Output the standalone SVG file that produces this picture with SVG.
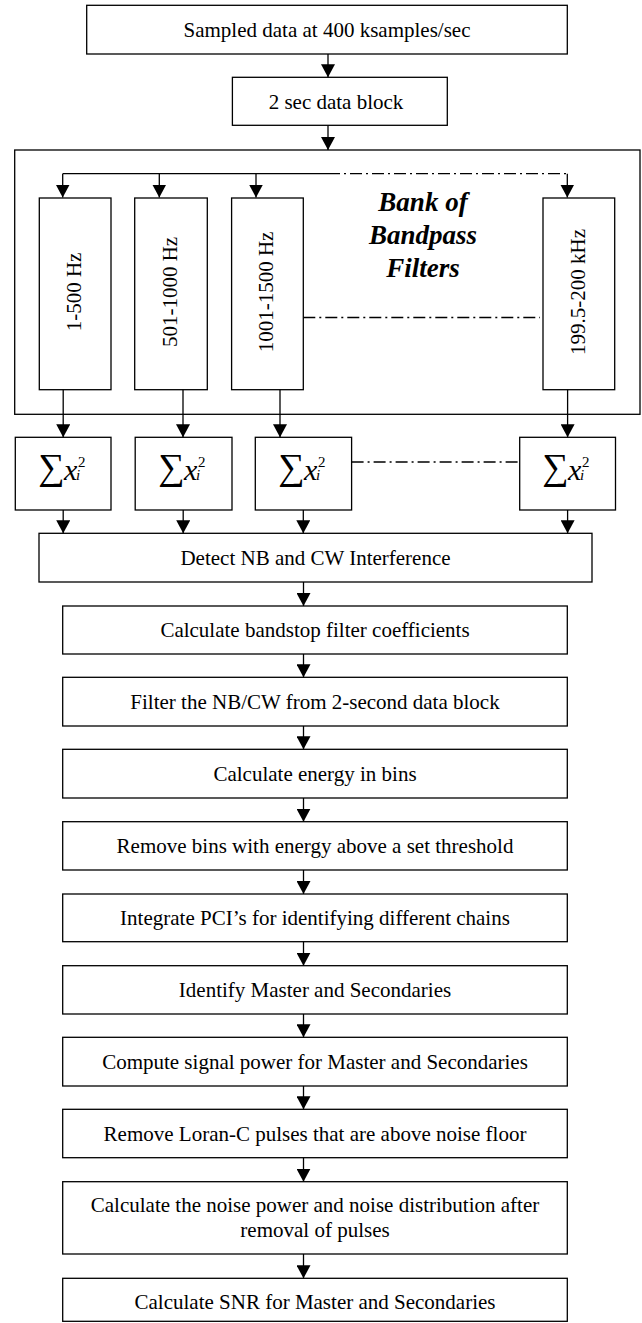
<svg xmlns="http://www.w3.org/2000/svg" width="642" height="1323" viewBox="0 0 642 1323">
<style>
.box{fill:#fff;stroke:#000;stroke-width:1.3}
.t{font-family:"Liberation Serif","Times New Roman",serif;font-size:21px;fill:#000;text-anchor:middle}
.bank{font-family:"Liberation Serif","Times New Roman",serif;font-size:27px;font-weight:bold;font-style:italic;fill:#000;text-anchor:middle}
.sig{font-family:"Liberation Serif","DejaVu Serif",serif;font-size:37px;fill:#000}
.xv{font-family:"Liberation Serif",serif;font-size:30px;font-style:italic;fill:#000}
.sm{font-family:"Liberation Serif",serif;font-size:15px;fill:#000}
.smi{font-family:"Liberation Serif",serif;font-size:15px;font-style:italic;fill:#000}
.ln{fill:none;stroke:#000;stroke-width:1.3}
.ar{fill:none;stroke:#000;stroke-width:1.3;marker-end:url(#ah)}
.dd{fill:none;stroke:#000;stroke-width:1.3;stroke-dasharray:12 4 2 4}
</style>
<defs>
<marker id="ah" viewBox="0 0 13 14" refX="13" refY="7" markerWidth="13" markerHeight="14" markerUnits="userSpaceOnUse" orient="auto">
<path d="M0,0 L13,7 L0,14 Z" fill="#000"/>
</marker>
</defs>

<g id="sampled">
<rect class="box" x="86.7" y="5.3" width="480.6" height="48.7"/>
<text class="t" x="327" y="36.5">Sampled data at 400 ksamples/sec</text>
</g>
<g id="block2">
<rect class="box" x="232.4" y="77.3" width="214.9" height="48"/>
<text class="t" x="336" y="108.5">2 sec data block</text>
</g>
<g id="bankbox">
<rect class="box" x="14.7" y="150" width="625.3" height="264.3"/>
<text class="bank" x="423" y="210.7">Bank of</text>
<text class="bank" x="423" y="244">Bandpass</text>
<text class="bank" x="423" y="277.3">Filters</text>
</g>
<g id="f1">
<rect class="box" x="39.3" y="198" width="71.7" height="191.7"/>
<text class="t" transform="translate(80.5,292) rotate(-90)">1-500 Hz</text>
</g>
<g id="f2">
<rect class="box" x="134.7" y="198" width="72.6" height="191.7"/>
<text class="t" transform="translate(176.5,292) rotate(-90)">501-1000 Hz</text>
</g>
<g id="f3">
<rect class="box" x="231.6" y="198" width="71.7" height="191.7"/>
<text class="t" transform="translate(273,292) rotate(-90)">1001-1500 Hz</text>
</g>
<g id="f4">
<rect class="box" x="543" y="198" width="71.7" height="191.7"/>
<text class="t" transform="translate(584.5,292) rotate(-90)">199.5-200 kHz</text>
</g>

<g id="s1">
<rect class="box" x="15.3" y="437.3" width="95.7" height="72.7"/>
<text class="sig" x="38" y="479">∑</text><text class="xv" x="64" y="480">x</text><text class="sm" x="78" y="467">2</text><text class="smi" x="76" y="480">i</text>
</g>
<g id="s2">
<rect class="box" x="135.2" y="437.3" width="96.8" height="72.7"/>
<text class="sig" x="158" y="479">∑</text><text class="xv" x="184" y="480">x</text><text class="sm" x="198" y="467">2</text><text class="smi" x="196" y="480">i</text>
</g>
<g id="s3">
<rect class="box" x="255.3" y="437.3" width="96.3" height="72.7"/>
<text class="sig" x="278" y="479">∑</text><text class="xv" x="304" y="480">x</text><text class="sm" x="318" y="467">2</text><text class="smi" x="316" y="480">i</text>
</g>
<g id="s4">
<rect class="box" x="519.7" y="437.3" width="95.8" height="72.7"/>
<text class="sig" x="542" y="479">∑</text><text class="xv" x="568" y="480">x</text><text class="sm" x="582" y="467">2</text><text class="smi" x="580" y="480">i</text>
</g>

<g id="detect">
<rect class="box" x="39" y="533.3" width="553" height="48.7"/>
<text class="t" x="315.5" y="565">Detect NB and CW Interference</text>
</g>
<g id="bandstop">
<rect class="box" x="62.7" y="606" width="504.6" height="48"/>
<text class="t" x="315" y="637.3">Calculate bandstop filter coefficients</text>
</g>
<g id="filter">
<rect class="box" x="62.7" y="677.3" width="504.6" height="48.7"/>
<text class="t" x="315" y="709">Filter the NB/CW from 2-second data block</text>
</g>
<g id="energy">
<rect class="box" x="62.7" y="749.3" width="504.6" height="48.7"/>
<text class="t" x="315" y="781">Calculate energy in bins</text>
</g>
<g id="removebins">
<rect class="box" x="62.7" y="821.7" width="504.6" height="48.3"/>
<text class="t" x="315" y="853">Remove bins with energy above a set threshold</text>
</g>
<g id="integrate">
<rect class="box" x="62.7" y="894" width="504.6" height="47.7"/>
<text class="t" x="315" y="925">Integrate PCI’s for identifying different chains</text>
</g>
<g id="identify">
<rect class="box" x="62.7" y="965.7" width="504.6" height="48.3"/>
<text class="t" x="315" y="997">Identify Master and Secondaries</text>
</g>
<g id="compute">
<rect class="box" x="62.7" y="1037.3" width="504.6" height="48.7"/>
<text class="t" x="315" y="1069">Compute signal power for Master and Secondaries</text>
</g>
<g id="removeloran">
<rect class="box" x="62.7" y="1109.3" width="504.6" height="48.4"/>
<text class="t" x="315" y="1141">Remove Loran-C pulses that are above noise floor</text>
</g>
<g id="noise">
<rect class="box" x="62.7" y="1181.7" width="504.6" height="72.3"/>
<text class="t" x="315" y="1212">Calculate the noise power and noise distribution after</text>
<text class="t" x="315" y="1237">removal of pulses</text>
</g>
<g id="snr">
<rect class="box" x="62.7" y="1278.3" width="504.6" height="43"/>
<text class="t" x="315" y="1309">Calculate SNR for Master and Secondaries</text>
</g>

<g id="connectors">
<path class="ar" d="M328,54 V77.3"/>
<path class="ar" d="M328,125.3 V150"/>
<path class="ln" d="M62.7,173.7 H328"/>
<path class="dd" d="M328,173.7 H567.3"/>
<path class="ar" d="M62.7,173.7 V197.5"/>
<path class="ar" d="M159.3,173.7 V197.5"/>
<path class="ar" d="M256,173.7 V197.5"/>
<path class="ar" d="M567.3,173.7 V197.5"/>
<path class="dd" d="M303.3,317.5 H540"/>
<path class="ar" d="M63.2,389.7 V437.3"/>
<path class="ar" d="M183,389.7 V437.3"/>
<path class="ar" d="M280,389.7 V437.3"/>
<path class="ar" d="M567.6,389.7 V437.3"/>
<path class="dd" d="M351.6,462 H519.7"/>
<path class="ar" d="M63.2,510 V533.3"/>
<path class="ar" d="M183.2,510 V533.3"/>
<path class="ar" d="M303.3,510 V533.3"/>
<path class="ar" d="M567.6,510 V533.3"/>
<path class="ar" d="M303.5,582 V606"/>
<path class="ar" d="M303.5,654 V677.3"/>
<path class="ar" d="M303.5,726 V749.3"/>
<path class="ar" d="M303.5,798 V821.7"/>
<path class="ar" d="M303.5,870 V894"/>
<path class="ar" d="M303.5,941.7 V965.7"/>
<path class="ar" d="M303.5,1014 V1037.3"/>
<path class="ar" d="M303.5,1086 V1109.3"/>
<path class="ar" d="M303.5,1157.7 V1181.7"/>
<path class="ar" d="M303.5,1254 V1278.3"/>
</g>
</svg>
